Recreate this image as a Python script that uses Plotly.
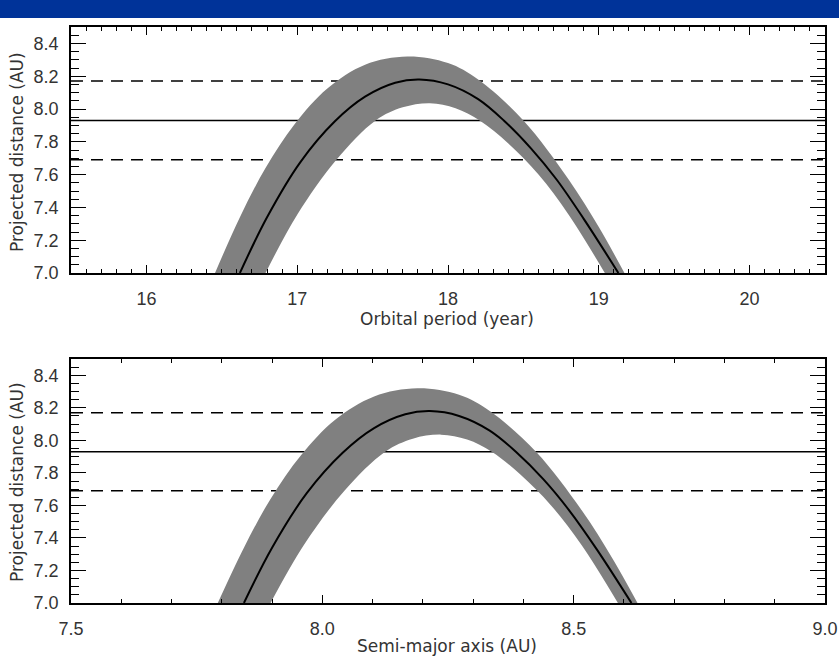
import plotly.graph_objects as go

# ---------------- data ----------------
# horizontal reference levels (AU)
level_mid = 7.93
level_hi = 8.17
level_lo = 7.69

# top panel: orbital period (year)
per_mid_x = [16.62, 16.80, 17.02, 17.25, 17.45, 17.65, 17.81, 18.00, 18.20, 18.37, 18.55, 18.72, 18.90, 19.13]
mid_y = [7.00, 7.34, 7.675, 7.925, 8.075, 8.16, 8.18, 8.15, 8.06, 7.93, 7.76, 7.57, 7.33, 7.00]

per_up_x = [16.455, 16.62, 16.79, 16.985, 17.20, 17.45, 17.73, 18.00, 18.20, 18.50, 18.80, 19.00, 19.17]
up_y = [7.00, 7.34, 7.64, 7.91, 8.125, 8.27, 8.32, 8.28, 8.18, 7.93, 7.57, 7.28, 7.00]

per_lo_x = [16.79, 17.00, 17.26, 17.52, 17.70, 17.88, 18.05, 18.21, 18.40, 18.60, 18.80, 19.04]
lo_y = [7.00, 7.355, 7.69, 7.93, 8.01, 8.035, 8.005, 7.93, 7.79, 7.60, 7.355, 7.00]

# bottom panel: semi-major axis (AU)
sma_mid_x = [7.844, 7.900, 7.969, 8.041, 8.103, 8.165, 8.214, 8.272, 8.333, 8.385, 8.440, 8.491, 8.546, 8.615]
sma_up_x = [7.792, 7.844, 7.897, 7.958, 8.025, 8.103, 8.189, 8.272, 8.333, 8.425, 8.516, 8.576, 8.627]
sma_lo_x = [7.897, 7.963, 8.044, 8.125, 8.180, 8.236, 8.288, 8.337, 8.394, 8.455, 8.516, 8.588]

per_range = [15.5, 20.5]
per_ticks = [16, 17, 18, 19, 20]
sma_range = [7.5, 9.0]
sma_ticks = [7.5, 8.0, 8.5, 9.0]
dist_range = [7.0, 8.5]
dist_ticks = [7.0, 7.2, 7.4, 7.6, 7.8, 8.0, 8.2, 8.4]

x_title_top = "Orbital period (year)"
x_title_bot = "Semi-major axis (AU)"
y_title = "Projected distance (AU)"

# ---------------- figure ----------------
W, H = 839, 668
BAND = "#808080"
FONT = "Liberation Sans"
TFONT = "DejaVu Sans"
TXT = "#333333"

fig = go.Figure()


def add_panel(xa, ya, xr, mx, ux, lx):
    # horizontal levels (under the band)
    for lev, dash in [(level_hi, "12px,8px"), (level_mid, "solid"), (level_lo, "12px,8px")]:
        fig.add_trace(go.Scatter(x=xr, y=[lev, lev], mode="lines", xaxis=xa, yaxis=ya,
                                 line=dict(color="black", width=1.5, dash=dash),
                                 showlegend=False, hoverinfo="skip"))
    # uncertainty band
    fig.add_trace(go.Scatter(x=lx, y=lo_y, mode="lines", xaxis=xa, yaxis=ya,
                             line=dict(color=BAND, width=0, shape="spline", smoothing=1),
                             showlegend=False, hoverinfo="skip"))
    fig.add_trace(go.Scatter(x=ux, y=up_y, mode="lines", xaxis=xa, yaxis=ya, fill="tonexty",
                             fillcolor=BAND,
                             line=dict(color=BAND, width=0, shape="spline", smoothing=1),
                             showlegend=False, hoverinfo="skip"))
    # central curve
    fig.add_trace(go.Scatter(x=mx, y=mid_y, mode="lines", xaxis=xa, yaxis=ya,
                             line=dict(color="black", width=2, shape="spline", smoothing=1),
                             showlegend=False, hoverinfo="skip"))


add_panel("x", "y", per_range, per_mid_x, per_up_x, per_lo_x)
add_panel("x2", "y2", sma_range, sma_mid_x, sma_up_x, sma_lo_x)

x0, x1 = 71 / W, 825 / W
top_dom = [(H - 273) / H, (H - 27) / H]
bot_dom = [(H - 603) / H, (H - 359) / H]

axis_common = dict(showline=True, linecolor="black", linewidth=1.5, mirror="allticks",
                   ticks="inside", tickcolor="black", showgrid=False, zeroline=False,
                   automargin=False,
                   tickfont=dict(family=FONT, size=18, color=TXT))

xa_common = dict(axis_common, ticklen=8, tickwidth=1.3, ticklabelstandoff=9)
ya_common = dict(axis_common, range=dist_range, tickvals=dist_ticks, tickformat=".1f",
                 ticklen=15, tickwidth=1.3,
                 minor=dict(ticks="inside", dtick=0.05, tick0=7.0, ticklen=8, tickcolor="black", tickwidth=1.2),
                 ticklabelstandoff=7)

fig.update_layout(
    width=W, height=H,
    margin=dict(l=0, r=0, t=0, b=0, autoexpand=False),
    paper_bgcolor="white", plot_bgcolor="white",
    xaxis=dict(xa_common, domain=[x0, x1], range=per_range, tickvals=per_ticks, anchor="y",
               minor=dict(ticks="inside", dtick=0.1, tick0=15.5, ticklen=4, tickcolor="black", tickwidth=1.2)),
    yaxis=dict(ya_common, domain=top_dom, anchor="x"),
    xaxis2=dict(xa_common, domain=[x0, x1], range=sma_range, tickvals=sma_ticks, tickformat=".1f", anchor="y2",
                minor=dict(ticks="inside", dtick=0.1, tick0=7.5, ticklen=4, tickcolor="black", tickwidth=1.2)),
    yaxis2=dict(ya_common, domain=bot_dom, anchor="x2"),
    showlegend=False,
)

# blue header bar
fig.add_shape(type="rect", xref="paper", yref="paper", x0=0, x1=1, y0=(H - 18) / H, y1=1,
              fillcolor="#003399", line=dict(width=0), layer="above")

# axis titles
tfont = dict(family=TFONT, size=17, color=TXT)
fig.add_annotation(text=x_title_top, xref="paper", yref="paper", x=447 / W, y=(H - 319) / H,
                   showarrow=False, font=tfont, xanchor="center", yanchor="middle")
fig.add_annotation(text=x_title_bot, xref="paper", yref="paper", x=447 / W, y=(H - 646) / H,
                   showarrow=False, font=tfont, xanchor="center", yanchor="middle")
for yc in (152, 482):
    fig.add_annotation(text=y_title, xref="paper", yref="paper", x=17 / W, y=(H - yc) / H,
                       showarrow=False, font=tfont, textangle=-90, xanchor="center", yanchor="middle")

fig.write_html("out.html")
